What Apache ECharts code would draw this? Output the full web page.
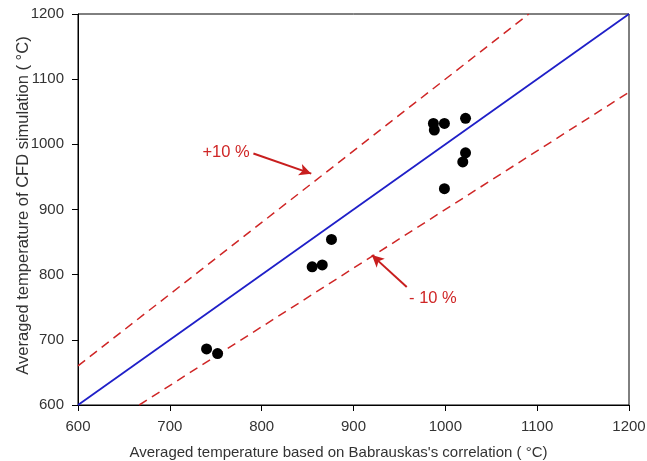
<!DOCTYPE html>
<html><head><meta charset="utf-8">
<script src="https://cdn.jsdelivr.net/npm/echarts@6/dist/echarts.min.js"></script>
<style>html,body{margin:0;padding:0;background:#fff}#c{width:647px;height:461px}</style>
</head><body><div id="c"></div>
<script>
const xTicks = [600, 700, 800, 900, 1000, 1100, 1200];
const yTicks = [600, 700, 800, 900, 1000, 1100, 1200];
const babrauskas = [740, 752, 876, 855, 866, 987, 988, 999, 1022, 1022, 1019, 999];
const cfd =        [686, 679, 854, 812, 815, 1032, 1022, 1032, 1040, 987, 973, 932];
const equalLine = [[600, 600], [1200, 1200]];
const plus10Line = [[600, 660], [1090.9, 1200]];
const minus10Line = [[666.7, 600], [1200, 1080]];
const plusArrow = [[791, 986], [854, 955]];
const minusArrow = [[958, 781], [920, 830]];
const plusLabel = { text: '+10 %', at: [735, 988] };
const minusLabel = { text: '- 10 %', at: [960, 764] };

const chart = echarts.init(document.getElementById('c'));
const font = 'Liberation Sans, Arial, sans-serif';
const red = '#cf2626';
const axisCommon = {
  min: 600, max: 1200, interval: 100,
  axisLine: { show: true, lineStyle: { color: '#000', width: 1 } },
  axisTick: { show: true, inside: false, length: 6, lineStyle: { color: '#000' } },
  splitLine: { show: false },
  nameLocation: 'middle',
  nameMoveOverlap: false
};
chart.setOption({
  animation: false,
  backgroundColor: '#fff',
  grid: { left: 78, right: 18, top: 14, bottom: 56, show: true, borderColor: '#000', borderWidth: 1, outerBoundsMode: 'none', containLabel: false },
  xAxis: Object.assign({}, axisCommon, {
    type: 'value',
    name: "Averaged temperature based on Babrauskas's correlation ( °C)",
    nameGap: 40,
    nameTextStyle: { fontFamily: font, fontSize: 15, color: '#333', padding: [0, 30, 0, 0] },
    axisLabel: { fontFamily: font, fontSize: 15, color: '#333', margin: 14, formatter: v => xTicks.includes(v) ? String(v) : '' }
  }),
  yAxis: Object.assign({}, axisCommon, {
    type: 'value',
    name: 'Averaged temperature of CFD simulation ( °C)',
    nameGap: 46,
    nameTextStyle: { fontFamily: font, fontSize: 16.5, color: '#333', padding: [0, 0, 0, 8] },
    axisLabel: { fontFamily: font, fontSize: 15, color: '#333', margin: 14, formatter: v => yTicks.includes(v) ? String(v) : '' }
  }),
  series: [
    { type: 'line', data: plus10Line, symbol: 'none', lineStyle: { color: red, width: 1.5, type: [9, 6] }, z: 2 },
    { type: 'line', data: minus10Line, symbol: 'none', lineStyle: { color: red, width: 1.5, type: [9, 6] }, z: 2 },
    { type: 'line', data: equalLine, symbol: 'none', lineStyle: { color: '#1f1fc8', width: 1.8 }, z: 3 },
    {
      type: 'scatter', data: babrauskas.map((x, i) => [x, cfd[i]]),
      symbol: 'circle', symbolSize: 11, itemStyle: { color: '#000', opacity: 1 }, z: 5,
      markLine: {
        silent: true, symbol: ['none', 'arrow'], symbolSize: [9, 12],
        lineStyle: { color: '#c81e1e', width: 2, type: 'solid' },
        label: { show: false },
        data: [
          [{ coord: plusArrow[0] }, { coord: plusArrow[1] }],
          [{ coord: minusArrow[0] }, { coord: minusArrow[1] }]
        ]
      },
      markPoint: {
        silent: true, symbol: 'rect', symbolSize: 1, itemStyle: { color: 'rgba(0,0,0,0)' },
        label: { show: true, position: 'right', distance: 0, fontFamily: font, fontSize: 16.5, color: red },
        data: [
          { coord: plusLabel.at, value: plusLabel.text, label: { formatter: plusLabel.text } },
          { coord: minusLabel.at, value: minusLabel.text, label: { formatter: minusLabel.text } }
        ]
      }
    }
  ]
});
</script></body></html>
